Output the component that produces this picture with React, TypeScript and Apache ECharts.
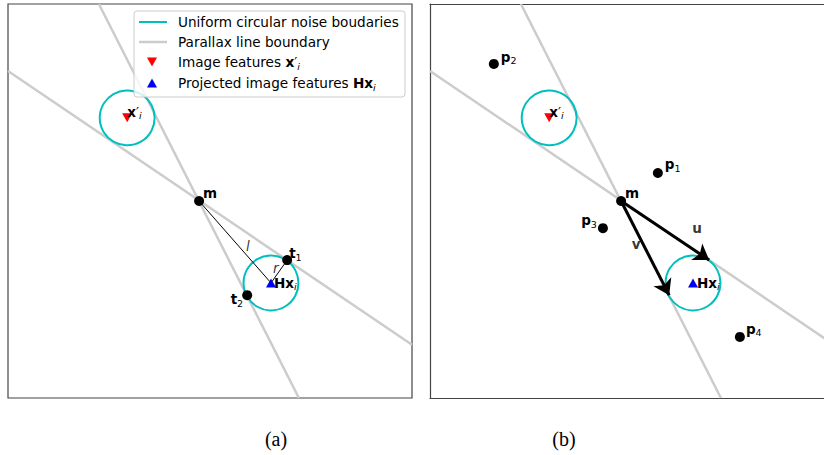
import React, { useEffect, useRef } from 'react';
import * as echarts from 'echarts';

// ---- data (axis units: 0..100 across each full panel) ----
const parallaxLineA = [[22.5, 100], [72.0, 0]];
const parallaxLineB = [[0, 83.0], [100, 13.5]];
const pointM = [47.3, 50.0];
const pointHx = [65.1, 29.2];
const pointXp = [29.5, 71.1];
const tangentT1 = [69.1, 35.0];
const tangentT2 = [59.2, 26.1];
const noiseRadius = 6.8;
const pointsP = [[56.4, 57.1], [15.8, 84.8], [42.8, 43.1], [76.7, 15.5]];
const pointsPIndex = ['1', '2', '3', '4'];
const segmentLabelPos = [[59.4, 38.6], [66.3, 33.0]];
const segmentLabelText = ['l', 'r'];
const vectorLabelPos = [[66.1, 43.1], [51.0, 39.1]];
const vectorLabelText = ['u', 'v'];
const legendTexts = [
  'Uniform circular noise boudaries',
  'Parallax line boundary',
  'Image features ',
  'Projected image features ',
];
const panelLabels = ['(a)', '(b)'];
// right panel is cut by the page edge: only this share of its x range is visible
const panelBVisibleMax = 97.52;

const FONT = 'DejaVu Sans';
const CYAN = '#00bfbf';
const GRAY = '#cccccc';
const FRAME = '#444444';

const rich: any = {
  b: { fontFamily: FONT, fontWeight: 'bold', fontSize: 13.5, lineHeight: 18, verticalAlign: 'middle', color: '#000' },
  n: { fontFamily: FONT, fontSize: 13.5, lineHeight: 18, verticalAlign: 'middle', color: '#000' },
  it: { fontFamily: FONT, fontStyle: 'italic', fontSize: 13.5, lineHeight: 18, verticalAlign: 'middle', color: '#000' },
  s: { fontFamily: FONT, fontSize: 9.5, lineHeight: 8, verticalAlign: 'bottom', color: '#000' },
  si: { fontFamily: FONT, fontStyle: 'italic', fontSize: 9.5, lineHeight: 8, verticalAlign: 'bottom', color: '#000' },
};
const legendRich: any = {
  t: { fontFamily: FONT, fontSize: 13.6, lineHeight: 18, verticalAlign: 'middle', color: '#000' },
  b: { fontFamily: FONT, fontWeight: 'bold', fontSize: 13.6, lineHeight: 18, verticalAlign: 'middle', color: '#000' },
  n: { fontFamily: FONT, fontSize: 13.6, lineHeight: 18, verticalAlign: 'middle', color: '#000' },
  si: { fontFamily: FONT, fontStyle: 'italic', fontSize: 9.5, lineHeight: 8, verticalAlign: 'bottom', color: '#000' },
};

const XP_LABEL = '{b|x}{n|′}{si|i}';
const HX_LABEL = '{b|Hx}{si|i}';

function grayLine(data: number[][], idx: number) {
  return {
    type: 'line', xAxisIndex: idx, yAxisIndex: idx, data, showSymbol: false, clip: true,
    lineStyle: { color: GRAY, width: 2.5 }, silent: true, z: 1,
  };
}

function circles(idx: number) {
  return {
    type: 'custom', xAxisIndex: idx, yAxisIndex: idx, z: 2, silent: true,
    data: [[...pointXp, noiseRadius], [...pointHx, noiseRadius]],
    renderItem: (_p: any, api: any) => {
      const c = api.coord([api.value(0), api.value(1)]);
      const r = api.size([api.value(2), 0])[0];
      return { type: 'circle', shape: { cx: c[0], cy: c[1], r }, style: { fill: 'none', stroke: CYAN, lineWidth: 2 } };
    },
  };
}

function triangles(idx: number, hxOffset: number) {
  return [
    {
      type: 'scatter', xAxisIndex: idx, yAxisIndex: idx, z: 5, symbol: 'triangle', symbolRotate: 180,
      symbolSize: [10, 9], itemStyle: { color: '#ff0000', opacity: 1 },
      data: [pointXp],
      label: { show: true, formatter: XP_LABEL, rich, position: 'right', distance: 0, offset: [-5, -6] },
    },
    {
      type: 'scatter', xAxisIndex: idx, yAxisIndex: idx, z: 5, symbol: 'triangle',
      symbolSize: [10, 9], itemStyle: { color: '#0000ff', opacity: 1 },
      data: [pointHx],
      label: { show: true, formatter: HX_LABEL, rich, position: 'right', distance: 0, offset: [hxOffset, 0] },
    },
  ];
}

function textSeries(idx: number, pos: number[][], texts: string[], style: string) {
  return {
    type: 'scatter', xAxisIndex: idx, yAxisIndex: idx, z: 6, symbolSize: 0, silent: true,
    data: pos,
    label: {
      show: true, position: 'inside', rich,
      formatter: (p: any) => `{${style}|${texts[p.dataIndex]}}`,
    },
  };
}

const frameAxisLine = { show: true, onZero: false, lineStyle: { color: FRAME, width: 1.2 } };
const hiddenParts = { axisTick: { show: false }, axisLabel: { show: false }, splitLine: { show: false } };

export default function App() {
  const ref = useRef<HTMLDivElement>(null);
  useEffect(() => {
    if (!ref.current) return;
    const chart = echarts.init(ref.current, null, { renderer: 'svg' });

    const pointLabelsA = ['{b|m}', '{b|t}{s|1}', '{b|t}{s|2}'];
    const pointLabelsB = ['{b|m}', ...pointsPIndex.map((k) => `{b|p}{s|${k}}`)];
    const pOffsets: any[] = [
      { position: 'right', offset: [2, -9] },
      { position: 'right', offset: [2, -7] },
      { position: 'left', offset: [-1, -8] },
      { position: 'right', offset: [1, -8] },
    ];

    const legendX = 134, legendY = 11;
    const rowY = [22, 42, 62, 83];
    const graphic: any[] = [
      {
        type: 'rect', z: 100, shape: { x: legendX, y: legendY, width: 271, height: 86, r: 3 },
        style: { fill: 'rgba(255,255,255,0.8)', stroke: '#cccccc', lineWidth: 1 },
      },
      { type: 'line', z: 101, shape: { x1: 139, y1: rowY[0], x2: 167, y2: rowY[0] }, style: { stroke: CYAN, lineWidth: 2 } },
      { type: 'line', z: 101, shape: { x1: 139, y1: rowY[1], x2: 167, y2: rowY[1] }, style: { stroke: GRAY, lineWidth: 2.5 } },
      {
        type: 'polygon', z: 101,
        shape: { points: [[147, rowY[2] - 4.5], [157, rowY[2] - 4.5], [152, rowY[2] + 4.5]] },
        style: { fill: '#ff0000' },
      },
      {
        type: 'polygon', z: 101,
        shape: { points: [[147, rowY[3] + 4.5], [157, rowY[3] + 4.5], [152, rowY[3] - 4.5]] },
        style: { fill: '#0000ff' },
      },
      ...legendTexts.map((t, i) => ({
        type: 'text', z: 101, x: 178, y: rowY[i],
        style: {
          text: `{t|${t}}` + (i === 2 ? XP_LABEL.replace('{b|', '{b|') : i === 3 ? '{b|Hx}{si|i}' : ''),
          rich: legendRich, verticalAlign: 'middle', align: 'left',
        },
      })),
      ...panelLabels.map((t, i) => ({
        type: 'text', x: i === 0 ? 276 : 564, y: 439,
        style: { text: t, fontFamily: 'Liberation Serif', fontSize: 20, fill: '#000', align: 'center', verticalAlign: 'middle' },
      })),
    ];

    const option: any = {
      animation: false,
      backgroundColor: '#fff',
      grid: [
        { left: 8, top: 4, width: 404, height: 394, show: true, borderColor: FRAME, borderWidth: 1.2, backgroundColor: 'transparent' },
        { left: 430, top: 4, right: 0, height: 394, show: false },
      ],
      xAxis: [
        { type: 'value', gridIndex: 0, min: 0, max: 100, show: false },
        { type: 'value', gridIndex: 1, min: 0, max: panelBVisibleMax, position: 'bottom', axisLine: frameAxisLine, ...hiddenParts },
        { type: 'value', gridIndex: 1, min: 0, max: panelBVisibleMax, position: 'top', axisLine: frameAxisLine, ...hiddenParts },
      ],
      yAxis: [
        { type: 'value', gridIndex: 0, min: 0, max: 100, show: false },
        { type: 'value', gridIndex: 1, min: 0, max: 100, position: 'left', axisLine: frameAxisLine, ...hiddenParts },
      ],
      graphic,
      series: [
        // panel (a)
        grayLine(parallaxLineA, 0),
        grayLine(parallaxLineB, 0),
        circles(0),
        {
          type: 'line', xAxisIndex: 0, yAxisIndex: 0, z: 3, showSymbol: false, silent: true,
          data: [pointM, pointHx, tangentT1], lineStyle: { color: '#000', width: 1 },
        },
        {
          type: 'scatter', xAxisIndex: 0, yAxisIndex: 0, z: 4, symbolSize: 10, itemStyle: { color: '#000', opacity: 1 },
          data: [
            { value: pointM, label: { position: 'right', offset: [-1, -8] } },
            { value: tangentT1, label: { position: 'right', offset: [-3, -7] } },
            { value: tangentT2, label: { position: 'left', offset: [1, 4] } },
          ],
          label: { show: true, rich, distance: 0, formatter: (p: any) => pointLabelsA[p.dataIndex] },
        },
        ...triangles(0, -2),
        textSeries(0, segmentLabelPos, segmentLabelText, 'it'),
        // panel (b)
        grayLine(parallaxLineA, 1),
        grayLine(parallaxLineB, 1),
        circles(1),
        {
          type: 'lines', coordinateSystem: 'cartesian2d', xAxisIndex: 1, yAxisIndex: 1, z: 3, silent: true,
          symbol: ['none', 'arrow'], symbolSize: 15,
          lineStyle: { color: '#000', width: 3, opacity: 1, curveness: 0 },
          data: [{ coords: [pointM, tangentT1] }, { coords: [pointM, tangentT2] }],
        },
        {
          type: 'scatter', xAxisIndex: 1, yAxisIndex: 1, z: 4, symbolSize: 10, itemStyle: { color: '#000', opacity: 1 },
          data: [
            { value: pointM, label: { position: 'right', offset: [-1, -8] } },
            ...pointsP.map((v, i) => ({ value: v, label: pOffsets[i] })),
          ],
          label: { show: true, rich, distance: 0, formatter: (p: any) => pointLabelsB[p.dataIndex] },
        },
        ...triangles(1, -1),
        textSeries(1, vectorLabelPos, vectorLabelText, 'b'),
      ],
    };
    chart.setOption(option);
    return () => chart.dispose();
  }, []);
  return <div ref={ref} style={{ position: 'absolute', left: 0, top: 0, width: 824, height: 455 }} />;
}
